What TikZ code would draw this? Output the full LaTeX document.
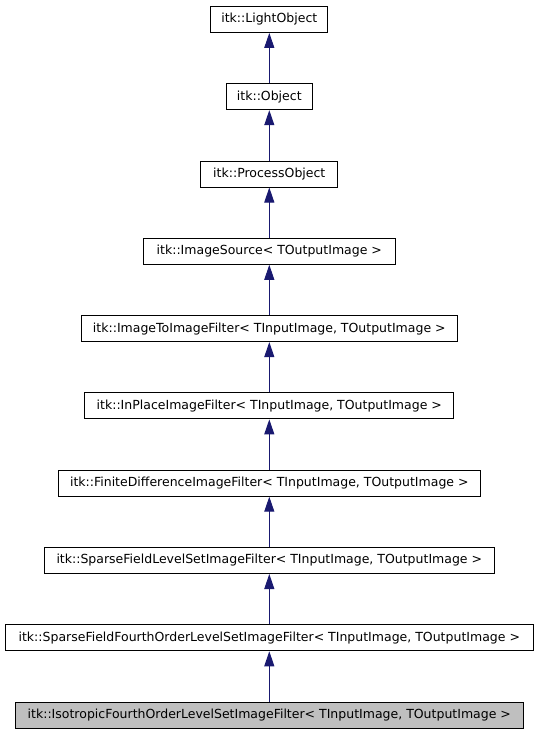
\documentclass[tikz,border=0pt]{standalone}
\usepackage{fontspec}
\setmainfont{DejaVu Sans}
\usetikzlibrary{arrows.meta}
\definecolor{navy}{HTML}{191970}
\definecolor{doxgray}{HTML}{BFBFBF}
\begin{document}
\begin{tikzpicture}[x=1pt,y=-1pt,
  cls/.style={draw=black,line width=1pt,fill=white,minimum height=26pt,inner sep=0pt,
    font=\fontsize{12.5pt}{15pt}\selectfont,anchor=center},
  cur/.style={cls,fill=doxgray},
  inh/.style={draw=navy,line width=1pt,-{Triangle[width=10pt,length=15pt]},fill=navy}]
\useasboundingbox (0,0) rectangle (539,736);
\def\cx{269.3}
\node[cls,minimum width=117pt] (n1) at (\cx,19.4) {itk::LightObject};
\node[cls,minimum width=86pt] (n2) at (\cx,96.7) {itk::Object};
\node[cls,minimum width=137pt] (n3) at (\cx,174.0) {itk::ProcessObject};
\node[cls,minimum width=252pt] (n4) at (\cx,251.3) {itk::ImageSource< TOutputImage >};
\node[cls,minimum width=376pt] (n5) at (\cx,328.6) {itk::ImageToImageFilter< TInputImage, TOutputImage >};
\node[cls,minimum width=369pt] (n6) at (\cx,405.9) {itk::InPlaceImageFilter< TInputImage, TOutputImage >};
\node[cls,minimum width=422pt] (n7) at (\cx,483.2) {itk::FiniteDifferenceImageFilter< TInputImage, TOutputImage >};
\node[cls,minimum width=450pt] (n8) at (\cx,560.5) {itk::SparseFieldLevelSetImageFilter< TInputImage, TOutputImage >};
\node[cls,minimum width=528pt] (n9) at (\cx,637.8) {itk::SparseFieldFourthOrderLevelSetImageFilter< TInputImage, TOutputImage >};
\node[cur,minimum width=508pt] (n10) at (\cx,715.1) {itk::IsotropicFourthOrderLevelSetImageFilter< TInputImage, TOutputImage >};
\foreach \a/\b in {n2/n1,n3/n2,n4/n3,n5/n4,n6/n5,n7/n6,n8/n7,n9/n8,n10/n9}
  \draw[inh] (\a.north) -- (\b.south);
\end{tikzpicture}
\end{document}
